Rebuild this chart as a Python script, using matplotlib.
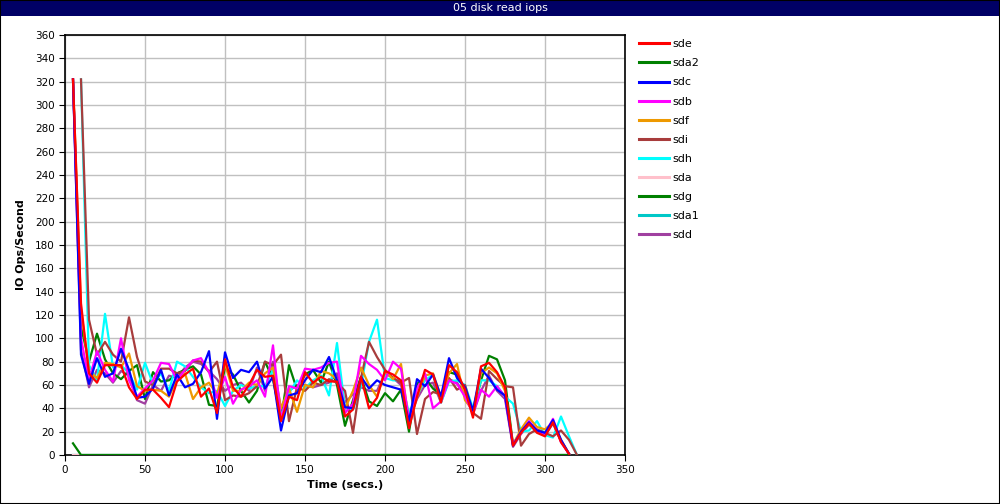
import numpy as np
import matplotlib
matplotlib.use("Agg")
import matplotlib.pyplot as plt

# sample times (5 s interval)
t_a = np.arange(5, 320, 5)      # 5..315
t_b = np.arange(10, 325, 5)     # 10..320 (sdi, sdh start later)

sde = [322, 130, 70, 62, 77, 77, 77, 58, 48, 56,
       56, 49, 41, 63, 69, 74, 50, 57, 36, 82,
       58, 50, 60, 73, 67, 68, 29, 50, 47, 71,
       62, 67, 63, 63, 33, 39, 67, 40, 49, 72,
       69, 64, 23, 50, 73, 69, 45, 77, 71, 56,
       32, 76, 79, 71, 58, 8, 19, 27, 19, 16,
       28, 11, 1]
sdc = [322, 86, 61, 83, 67, 70, 91, 73, 49, 50,
       57, 73, 51, 69, 58, 61, 71, 89, 31, 88,
       66, 73, 71, 80, 57, 67, 21, 51, 53, 64,
       73, 71, 84, 64, 41, 40, 67, 57, 64, 60,
       58, 56, 29, 65, 59, 69, 50, 83, 66, 58,
       38, 74, 66, 56, 51, 8, 20, 28, 21, 19,
       30, 13, 1]
sdb = [322, 100, 64, 89, 73, 63, 100, 64, 50, 57,
       64, 79, 78, 64, 73, 81, 83, 71, 49, 67,
       44, 56, 59, 64, 50, 94, 30, 59, 57, 74,
       73, 75, 79, 80, 36, 44, 85, 78, 73, 64,
       80, 74, 30, 57, 70, 40, 46, 64, 61, 50,
       36, 56, 50, 59, 50, 9, 19, 29, 21, 18,
       31, 11, 1]
sdf = [322, 125, 72, 66, 79, 78, 75, 87, 59, 55,
       56, 55, 50, 65, 70, 48, 58, 62, 52, 78,
       55, 55, 62, 60, 70, 75, 40, 57, 37, 60,
       58, 72, 70, 65, 40, 55, 75, 60, 50, 72,
       65, 78, 28, 50, 68, 70, 50, 70, 78, 47,
       38, 70, 75, 70, 55, 9, 22, 32, 24, 22,
       28, 13, 1]
sdi = [322, 116, 86, 97, 86, 80, 118, 84, 63, 60,
       74, 74, 70, 72, 81, 80, 71, 80, 47, 51,
       50, 53, 59, 80, 77, 86, 29, 58, 55, 62,
       60, 65, 62, 55, 19, 66, 97, 84, 73, 66,
       62, 66, 18, 48, 54, 52, 66, 56, 60, 36,
       31, 72, 65, 59, 58, 8, 18, 22, 19, 16,
       21, 13, 0]
sdh = [322, 77, 64, 121, 75, 77, 70, 56, 79, 61,
       70, 55, 80, 76, 67, 58, 53, 55, 42, 55,
       60, 57, 59, 59, 73, 33, 53, 64, 57, 64,
       68, 51, 96, 40, 39, 59, 97, 116, 66, 64,
       64, 36, 51, 64, 69, 45, 63, 64, 60, 40,
       64, 64, 59, 50, 44, 20, 21, 29, 17, 15,
       33, 16, 0]
sdg = [322, 110, 80, 104, 82, 70, 65, 72, 77, 48,
       71, 63, 64, 70, 73, 76, 69, 43, 42, 75,
       69, 55, 45, 55, 80, 65, 30, 77, 56, 69,
       73, 62, 80, 60, 25, 47, 67, 46, 42, 53,
       46, 56, 20, 61, 66, 57, 51, 71, 69, 56,
       37, 64, 85, 82, 64, 9, 20, 28, 21, 18,
       28, 12, 1]
sdd = [322, 90, 58, 73, 70, 62, 72, 68, 47, 44,
       60, 55, 68, 66, 75, 80, 78, 72, 65, 55,
       60, 62, 55, 75, 55, 80, 40, 55, 60, 60,
       58, 60, 62, 70, 45, 52, 58, 55, 55, 70,
       66, 60, 30, 48, 60, 62, 45, 65, 62, 52,
       35, 55, 68, 55, 48, 7, 18, 26, 20, 17,
       27, 12, 1]
sda2 = [10] + [0] * 62
sda = [0] * 63
sda1 = [0] * 63

series = [
    ("sde", t_a, sde, "#ff0000"),
    ("sda2", t_a, sda2, "#008000"),
    ("sdc", t_a, sdc, "#0000ff"),
    ("sdb", t_a, sdb, "#ff00ff"),
    ("sdf", t_a, sdf, "#ee9900"),
    ("sdi", t_b, sdi, "#a83c3c"),
    ("sdh", t_b, sdh, "#00ffff"),
    ("sda", t_a, sda, "#ffc0cb"),
    ("sdg", t_a, sdg, "#008000"),
    ("sda1", t_a, sda1, "#00c8c8"),
    ("sdd", t_a, sdd, "#a040a0"),
]

fig = plt.figure(figsize=(10, 5.04), dpi=100)

# title bar
fig.patches.append(plt.Rectangle((0, 1 - 16 / 504), 1, 16 / 504, transform=fig.transFigure,
                                 facecolor="#000066", edgecolor="none"))
fig.text(0.5, 1 - 8 / 504, "05 disk read iops", color="white", ha="center", va="center", fontsize=8)
fig.patches.append(plt.Rectangle((0, 0), 1, 1, transform=fig.transFigure,
                                 facecolor="none", edgecolor="black", linewidth=1.5))

ax = fig.add_axes([65 / 1000, 49 / 504, 560 / 1000, 420 / 504])

handles = []
for i, (name, t, vals, col) in enumerate(series):
    h, = ax.plot(t, vals, color=col, linewidth=1.6, label=name, zorder=20 - i)
    handles.append(h)

ax.set_xlim(0, 350)
ax.set_ylim(0, 360)
ax.set_xticks(range(0, 351, 50))
ax.set_yticks(range(0, 361, 20))
ax.grid(True, color="#c0c0c0", linewidth=1)
ax.set_axisbelow(True)
ax.tick_params(labelsize=7.5, length=4, direction="out")
for s in ax.spines.values():
    s.set_linewidth(1.2)
ax.set_xlabel("Time (secs.)", fontsize=8, fontweight="bold", labelpad=3)
ax.set_ylabel("IO Ops/Second", fontsize=8, fontweight="bold", labelpad=6)

leg = fig.legend(handles=handles, loc="upper left", bbox_to_anchor=(0.629, 0.942),
                 frameon=False, fontsize=8, handlelength=2.7, labelspacing=0.82,
                 handletextpad=0.35)
for l in leg.get_lines():
    l.set_linewidth(2.2)

plt.savefig("out.png", dpi=100)
